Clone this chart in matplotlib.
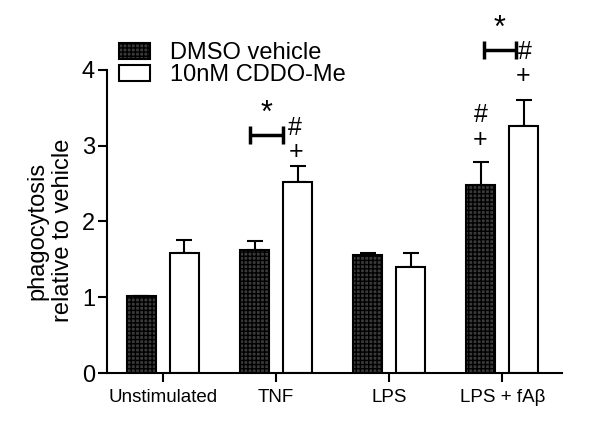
import matplotlib
matplotlib.use("Agg")
import matplotlib.pyplot as plt
import numpy as np

plt.rcParams['font.family'] = ['Liberation Sans', 'DejaVu Sans']
plt.rcParams['hatch.color'] = '#111111'
plt.rcParams['hatch.linewidth'] = 1.0

categories = ["Unstimulated", "TNF", "LPS", "LPS + fA\u03b2"]
dmso = [1.01, 1.63, 1.56, 2.48]
dmso_err = [0.01, 0.11, 0.03, 0.30]
cddo = [1.59, 2.52, 1.40, 3.26]
cddo_err = [0.17, 0.21, 0.18, 0.35]
legend_labels = ["DMSO vehicle", "10nM CDDO-Me"]

fig = plt.figure(figsize=(6, 4.28), dpi=100)
ax = fig.add_axes([0.178, 0.1285, 0.759, 0.708])

x = np.arange(len(categories))
w = 0.26
off = 0.19
b1 = ax.bar(x - off, dmso, w, facecolor='#3a3a3a', edgecolor='black', linewidth=1.5,
            hatch='++++', label=legend_labels[0], zorder=2)
b2 = ax.bar(x + off, cddo, w, facecolor='white', edgecolor='black', linewidth=1.5,
            label=legend_labels[1], zorder=2)
ax.errorbar(x - off, dmso, yerr=[np.zeros(4), dmso_err], fmt='none', ecolor='black',
            elinewidth=1.5, capsize=6, capthick=1.5, zorder=1)
ax.errorbar(x + off, cddo, yerr=[np.zeros(4), cddo_err], fmt='none', ecolor='black',
            elinewidth=1.5, capsize=6, capthick=1.5, zorder=1)

ax.set_xlim(-0.496, 3.53)
ax.set_ylim(0, 4)
ax.set_yticks([0, 1, 2, 3, 4])
ax.set_xticks(x)
ax.set_xticklabels(categories, fontsize=13.5)
ax.tick_params(axis='y', labelsize=17, width=1.5, length=6.5, pad=2)
ax.tick_params(axis='x', width=1.5, length=6.5, pad=5)
for s in ['top', 'right']:
    ax.spines[s].set_visible(False)
for s in ['left', 'bottom']:
    ax.spines[s].set_linewidth(1.5)
ax.set_ylabel("phagocytosis\nrelative to vehicle", fontsize=17, linespacing=1.2)
ax.yaxis.set_label_coords(-0.072, 0.47)

# significance brackets
def bracket(x0, x1, y, h=0.12):
    ax.plot([x0, x1], [y, y], color='black', lw=2.5, clip_on=False, solid_capstyle='butt')
    for xx in (x0, x1):
        ax.plot([xx, xx], [y - h, y + h], color='black', lw=2.5, clip_on=False, solid_capstyle='butt')

bracket(1 - 0.23, 1 + 0.06, 3.14)
ax.text(1 - 0.085, 3.22, "*", ha='center', va='bottom', fontsize=22, clip_on=False)
ax.text(1 + 0.17, 3.23, "#", ha='center', va='center', fontsize=18)
ax.text(1 + 0.18, 2.92, "+", ha='center', va='center', fontsize=18)

bracket(3 - 0.16, 3 + 0.12, 4.26)
ax.text(3 - 0.02, 4.34, "*", ha='center', va='bottom', fontsize=22, clip_on=False)
ax.text(3 + 0.20, 4.24, "#", ha='center', va='center', fontsize=18, clip_on=False)
ax.text(3 + 0.18, 3.92, "+", ha='center', va='center', fontsize=18)
ax.text(3 - 0.19, 3.40, "#", ha='center', va='center', fontsize=18)
ax.text(3 - 0.20, 3.08, "+", ha='center', va='center', fontsize=18)

leg = ax.legend(handles=[b1, b2], loc='upper left', bbox_to_anchor=(0.005, 1.122),
                frameon=False, fontsize=17, handlelength=1.35, handleheight=0.7,
                labelspacing=0.0, handletextpad=0.85, borderaxespad=0)

fig.savefig("out.png", dpi=100)
